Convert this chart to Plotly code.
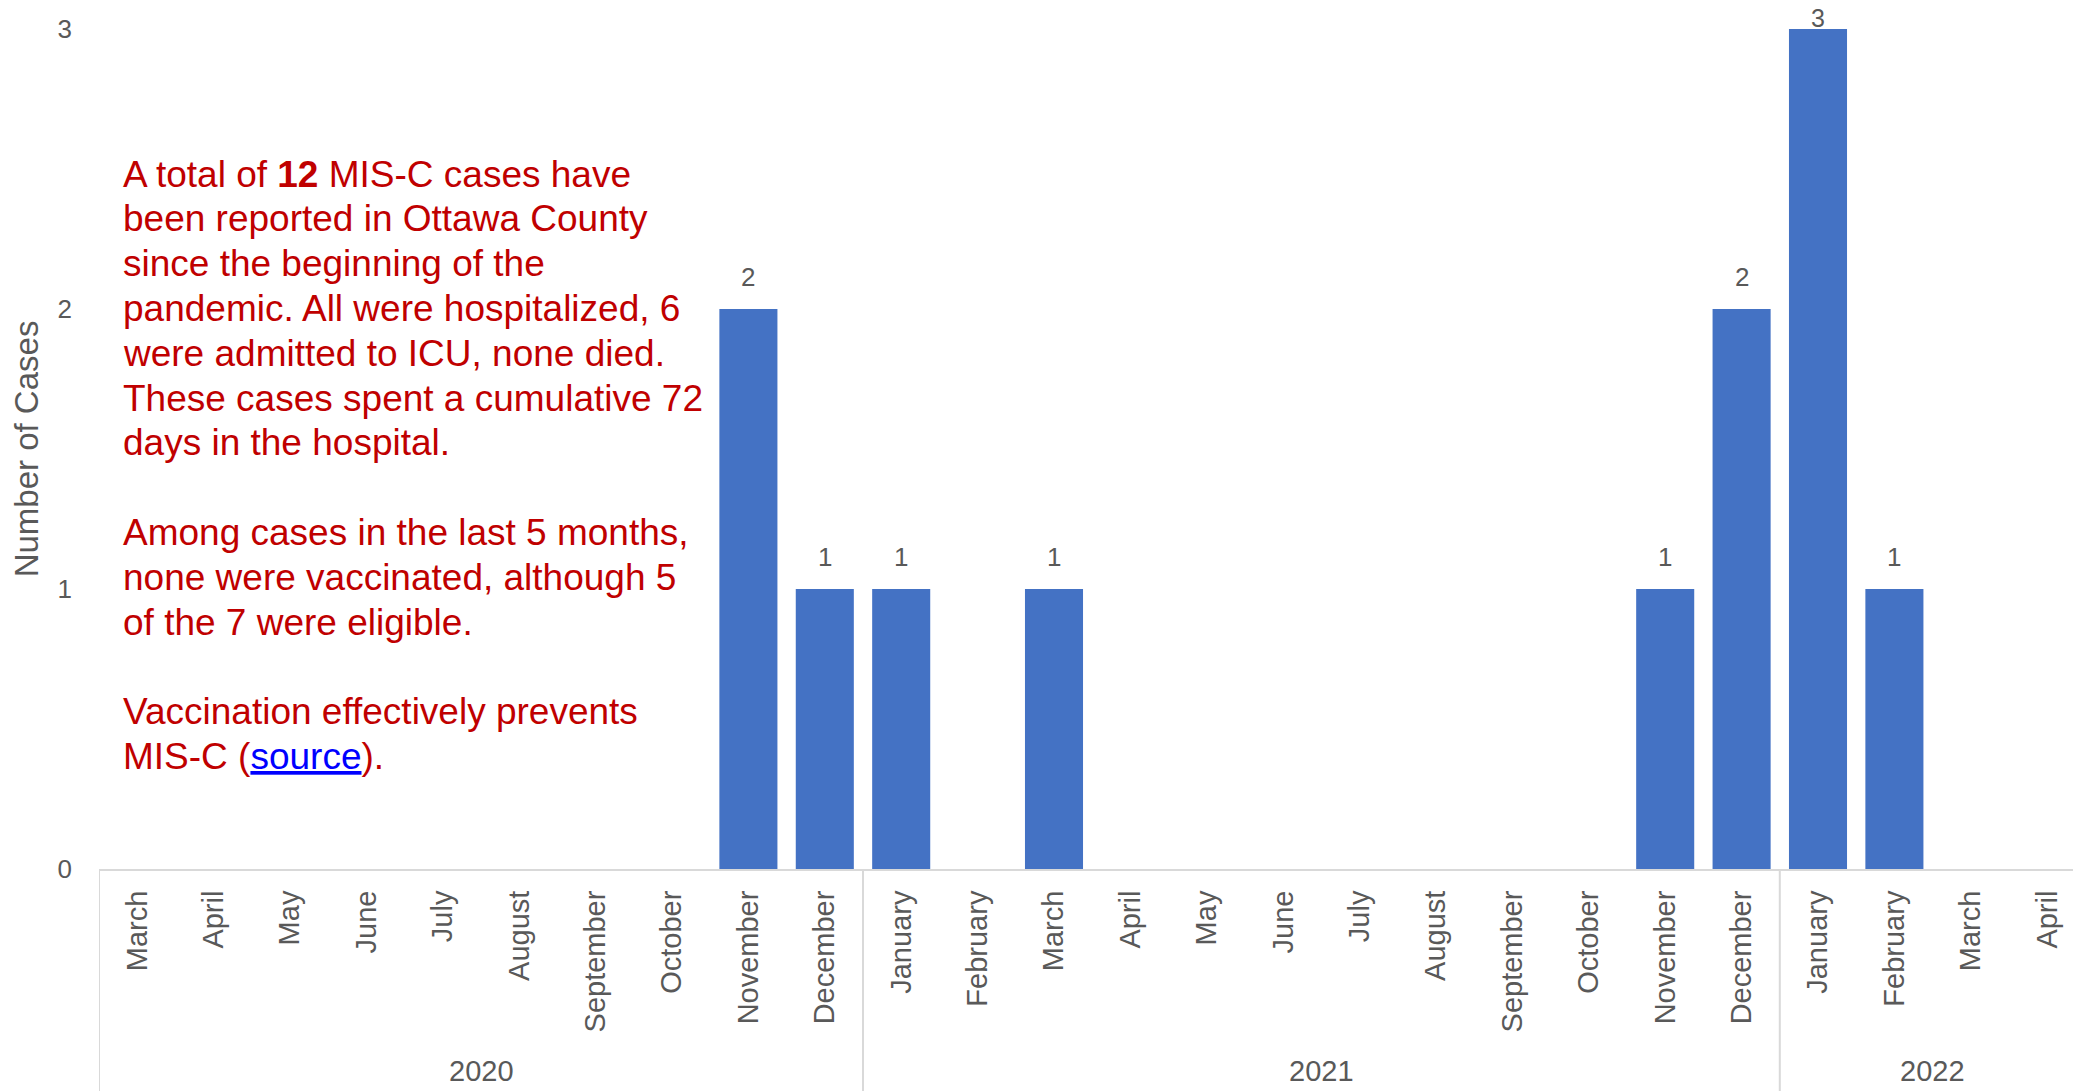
import plotly.graph_objects as go

# ---------------- data ----------------
years = ["2020"] * 10 + ["2021"] * 12 + ["2022"] * 4
months = ["March", "April", "May", "June", "July", "August", "September", "October",
          "November", "December",
          "January", "February", "March", "April", "May", "June", "July", "August",
          "September", "October", "November", "December",
          "January", "February", "March", "April"]
cases = [0, 0, 0, 0, 0, 0, 0, 0, 2, 1,
         1, 0, 1, 0, 0, 0, 0, 0, 0, 0, 1, 2,
         3, 1, 0, 0]
y_ticks = [0, 1, 2, 3]

note_lines = [
    ("A total of <b>12</b> MIS-C cases have", 0),
    ("been reported in Ottawa County", 1),
    ("since the beginning of the", 2),
    ("pandemic. All were hospitalized, 6", 3),
    ("were admitted to ICU, none died.", 4),
    ("These cases spent a cumulative 72", 5),
    ("days in the hospital.", 6),
    ("Among cases in the last 5 months,", 8),
    ("none were vaccinated, although 5", 9),
    ("of the 7 were eligible.", 10),
    ("Vaccination effectively prevents", 12),
    ("MIS-C (<span style='color:#0000FF'><u>source</u></span>).", 13),
]

# ---------------- layout constants ----------------
OFF = 8                      # default page (body) margin of the browser
W, H = 2081, 1091
PAGE_LEFT, PAGE_TOP, PAGE_BOTTOM = 99, 29, 869   # plot edges on the page
ML = PAGE_LEFT - OFF
MT = PAGE_TOP - OFF
MB = H - (PAGE_BOTTOM - OFF)
PLOT_W = W - ML
PLOT_H = H - MT - MB
BAND = 76.4                  # px per month
FONT = "Liberation Sans, Arial, sans-serif"
GRAY = "#595959"
RED = "#C00000"
BLUE = "#4472C4"
LINE = "#D9D9D9"


def py(page_px):
    """page pixel y -> paper y"""
    return (H - MB - (page_px - OFF)) / PLOT_H


def px_x(page_px):
    return (page_px - OFF - ML) / PLOT_W


xpos = list(range(len(months)))

fig = go.Figure()
fig.add_trace(go.Bar(
    x=xpos,
    y=cases,
    marker=dict(color=BLUE, line=dict(width=0)),
    hoverinfo="skip",
))

annotations = []
shapes = []
ymax = max(cases)
for i, v in zip(xpos, cases):
    if v > 0:
        top = v == ymax
        annotations.append(dict(
            x=i, y=v, xref="x", yref="y", text=str(v), showarrow=False,
            yanchor="middle", xanchor="center",
            yshift=11 if top else 32,
            font=dict(family=FONT, size=25 if top else 26, color=GRAY),
        ))

# year groups: labels centred under their months, dividers at group edges
groups = []
for i, yr in zip(xpos, years):
    if not groups or groups[-1][0] != yr:
        groups.append([yr, i, i])
    else:
        groups[-1][2] = i
for yr, a, b in groups:
    annotations.append(dict(
        x=(a + b) / 2, y=py(1071), xref="x", yref="paper", text=yr,
        showarrow=False, xanchor="center", yanchor="middle",
        font=dict(family=FONT, size=29, color=GRAY),
    ))
    shapes.append(dict(type="line", xref="x", yref="paper",
                       x0=a - 0.5, x1=a - 0.5, y0=py(869), y1=py(1100),
                       line=dict(color=LINE, width=2)))
shapes.append(dict(type="line", xref="x", yref="paper",
                   x0=groups[-1][2] + 0.5, x1=groups[-1][2] + 0.5,
                   y0=py(869), y1=py(1100), line=dict(color=LINE, width=2)))

for text, idx in note_lines:
    annotations.append(dict(
        x=px_x(121), y=py(174 + 44.8 * idx), xref="paper", yref="paper",
        text=text, showarrow=False, xanchor="left", yanchor="middle",
        align="left", font=dict(family=FONT, size=37, color=RED),
    ))

fig.update_layout(
    width=W, height=H,
    margin=dict(l=ML, r=0, t=MT, b=MB, pad=0),
    paper_bgcolor="white", plot_bgcolor="white",
    bargap=0.24,
    showlegend=False,
    annotations=annotations,
    shapes=shapes,
    font=dict(family=FONT, color=GRAY),
)

fig.update_xaxes(
    range=[-0.5, -0.5 + PLOT_W / BAND],
    tickvals=xpos, ticktext=months,
    tickangle=-90,
    tickfont=dict(family=FONT, size=29, color=GRAY),
    showline=True, linecolor=LINE, linewidth=2,
    showgrid=False, zeroline=False,
    ticks="", ticklabelstandoff=8,
    automargin=False,
)

fig.update_yaxes(
    range=[0, 3],
    tickvals=y_ticks,
    tickfont=dict(family=FONT, size=26, color=GRAY),
    showgrid=False, zeroline=False, showline=False,
    ticks="", ticklabelstandoff=26,
    title=dict(text="Number of Cases", font=dict(family=FONT, size=33, color=GRAY),
               standoff=15),
    automargin=False,
)

fig.write_html("out.html")
